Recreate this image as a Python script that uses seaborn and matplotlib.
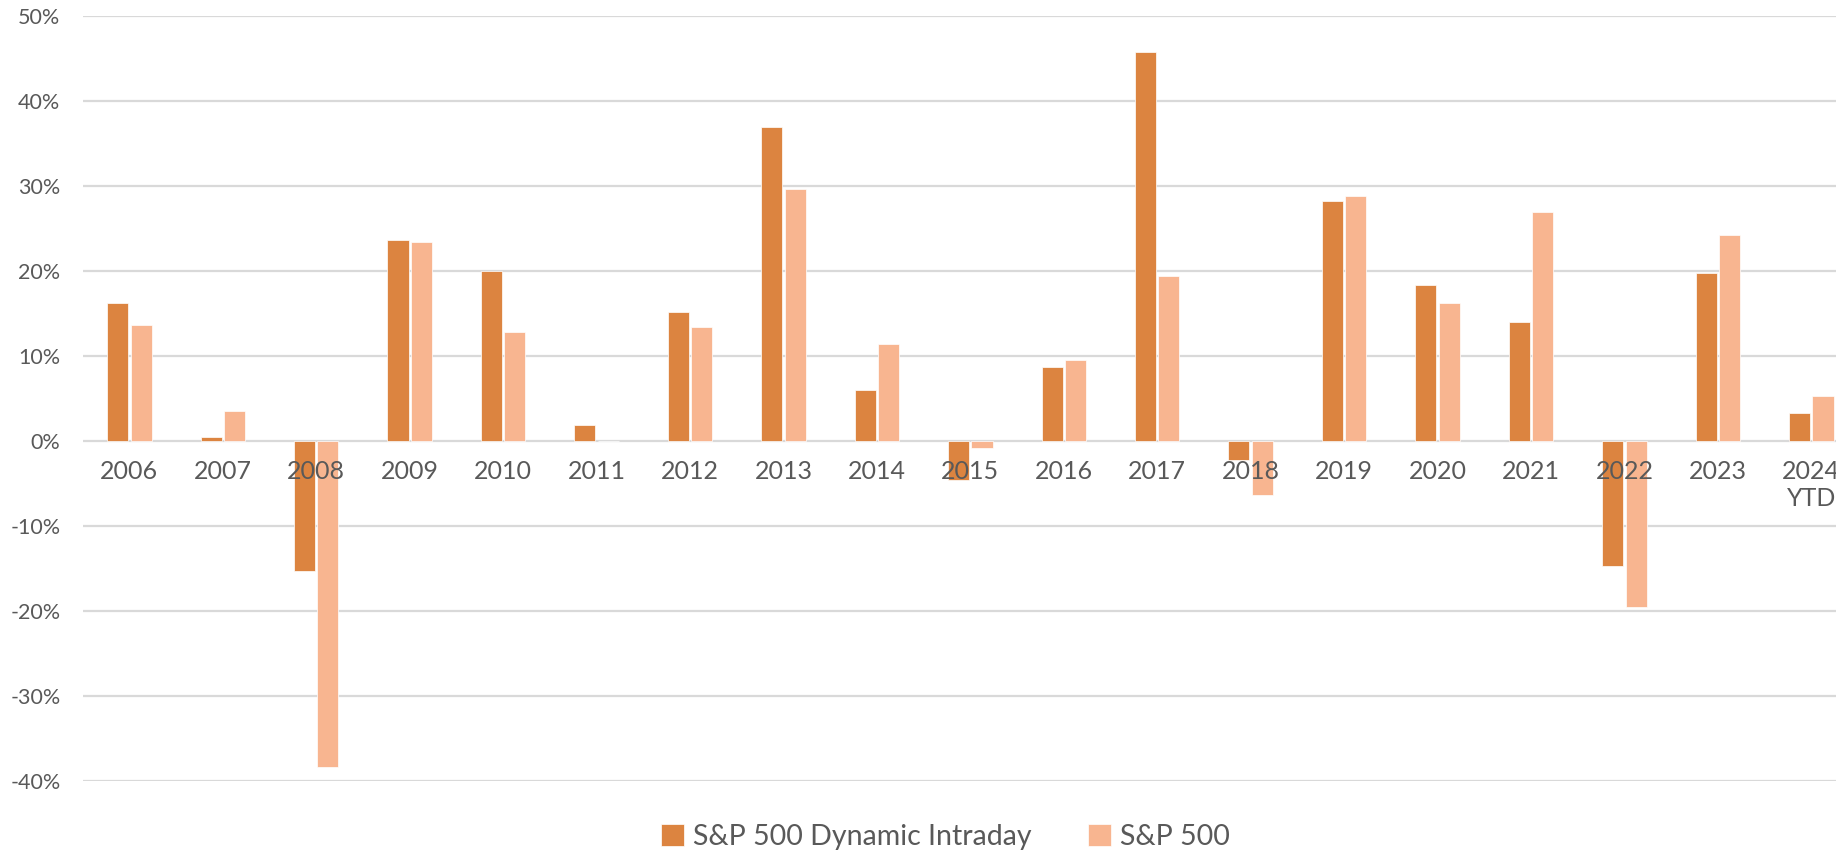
import pandas as pd
import matplotlib.pyplot as plt
import seaborn as sns
from matplotlib.ticker import PercentFormatter

# Annual returns (%)
years = ['2006', '2007', '2008', '2009', '2010', '2011', '2012', '2013', '2014', '2015',
         '2016', '2017', '2018', '2019', '2020', '2021', '2022', '2023', '2024\nYTD']
dynamic_intraday = [16.2, 0.5, -15.3, 23.6, 20.0, 1.9, 15.2, 36.9, 6.0, -4.6,
                    8.7, 45.7, -2.2, 28.2, 18.3, 14.0, -14.7, 19.8, 3.3]
sp500 = [13.6, 3.5, -38.4, 23.4, 12.8, 0.0, 13.4, 29.6, 11.4, -0.8,
         9.5, 19.4, -6.3, 28.8, 16.2, 26.9, -19.5, 24.2, 5.3]
series_names = ['S&P 500 Dynamic Intraday', 'S&P 500']
colors = ['#DC8440', '#F8B590']
y_ticks = list(range(-40, 51, 10))

df = pd.DataFrame({
    'year': years * 2,
    'ret': dynamic_intraday + sp500,
    'series': [series_names[0]] * len(years) + [series_names[1]] * len(years),
})

sns.set_style('white')
plt.rcParams['font.family'] = ['Lato', 'DejaVu Sans']
plt.rcParams['axes.unicode_minus'] = False

fig = plt.figure(figsize=(18.36, 8.52), dpi=100)
ax = fig.add_axes([0.045, 0.0833, 0.967, 0.898])

# gridlines drawn by hand so they sit under the bars while tick labels stay on top
for t in y_ticks:
    ax.axhline(t, color='#D9D9D9', linewidth=1.6, zorder=0.1)

sns.barplot(data=df, x='year', y='ret', hue='series', palette=colors, saturation=1,
            width=0.5, gap=0.1, ax=ax, legend=True, edgecolor='white', linewidth=0.5,
            zorder=0.5)

ax.set_ylim(-40, 50)
ax.set_yticks(y_ticks)
ax.yaxis.set_major_formatter(PercentFormatter(decimals=0))
ax.set_xlim(-0.5, len(years) - 0.5)
ax.grid(False)

for s in ['top', 'right', 'left']:
    ax.spines[s].set_visible(False)
ax.spines['bottom'].set_position(('data', 0))
ax.spines['bottom'].set_visible(False)

ax.tick_params(axis='x', length=0, pad=14, labelsize=18, labelcolor='#595959')
ax.tick_params(axis='y', length=0, pad=16, labelsize=15.5, labelcolor='#595959')
ax.set_xlabel('')
ax.set_ylabel('')

ax.legend(loc='center', ncol=2, frameon=False, fontsize=20.5, labelcolor='#595959',
          handlelength=0.8, handleheight=0.8, handletextpad=0.3, columnspacing=2.0)
ax.legend_.set_bbox_to_anchor((0.515, 0.0175), transform=fig.transFigure)

fig.savefig('out.png', dpi=100)
